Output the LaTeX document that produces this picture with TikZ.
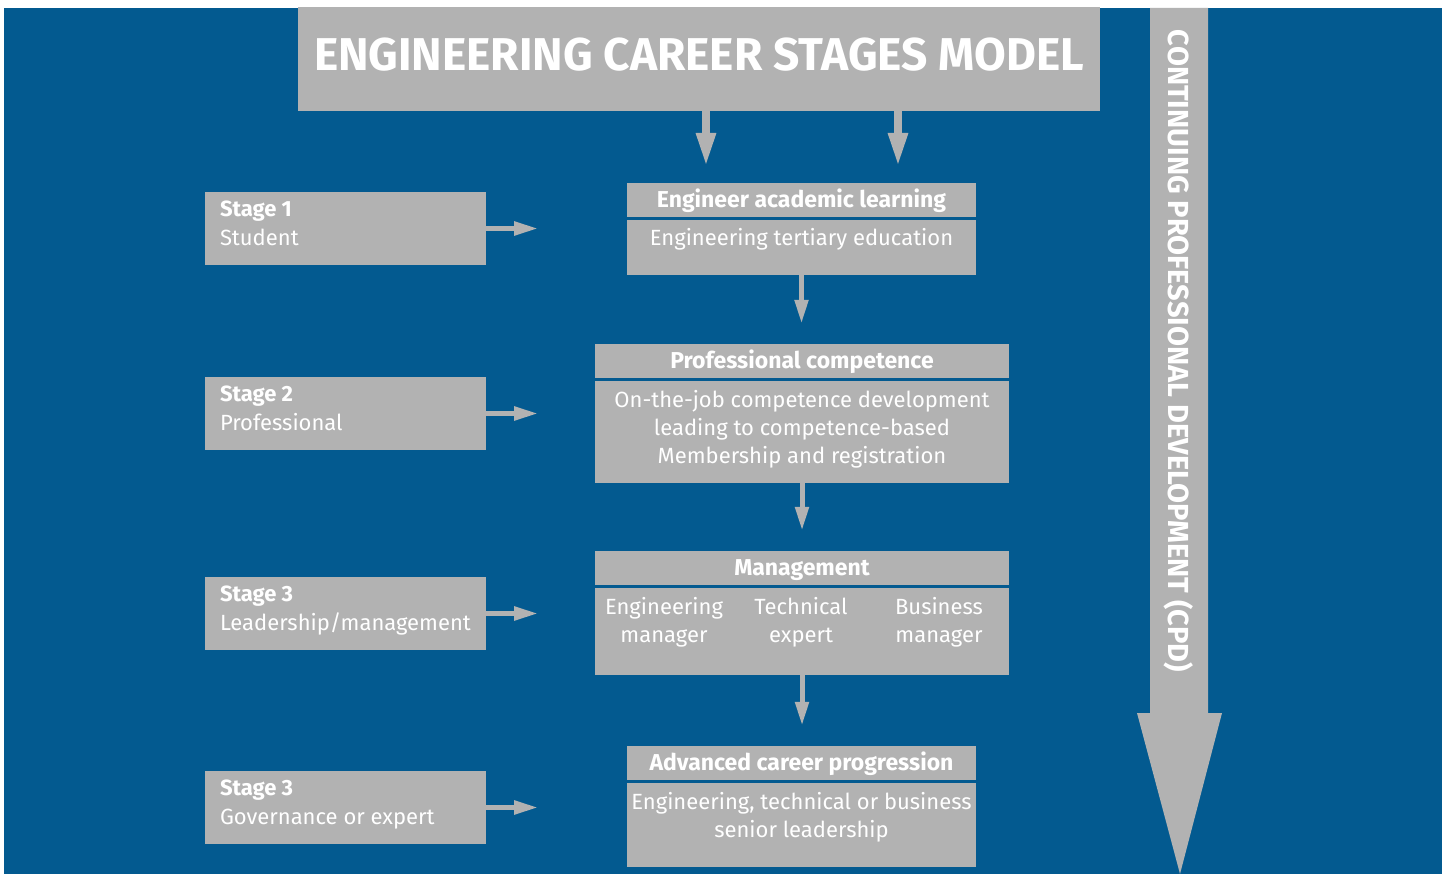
\documentclass[tikz,border=0pt]{standalone}
\usepackage{fontspec}
\setmainfont{Fira Sans}
\definecolor{ecblue}{HTML}{035A90}
\definecolor{ecgray}{HTML}{B2B2B2}
\usepackage{tikz}
\usetikzlibrary{arrows.meta,positioning}

\begin{document}
\begin{tikzpicture}[
  x=1pt, y=-1pt,
  titlebox/.style={fill=ecgray, minimum width=802pt, minimum height=104pt,
    inner sep=0pt, text=white, text depth=9pt,
    font=\bfseries\fontsize{46}{46}\selectfont},
  stagebox/.style={fill=ecgray, minimum width=281pt, minimum height=73pt, inner sep=0pt},
  stagetext/.style={text=white, align=left, inner sep=0pt, anchor=north west,
    font=\fontsize{22}{29}\selectfont},
  head/.style={fill=ecgray, minimum width=#1, minimum height=34pt, inner sep=0pt,
    text=white, text height=16pt, text depth=1pt,
    font=\fontsize{23}{28}\selectfont\bfseries},
  body/.style={fill=ecgray, minimum width=#1, inner sep=0pt},
  txt/.style={text=white, align=center, inner sep=0pt, anchor=north,
    font=\fontsize{22}{28}\selectfont},
  arr/.style={-{Triangle[width=13pt,length=24pt]}, line width=5pt, ecgray},
  bigarr/.style={-{Triangle[width=18pt,length=34pt]}, line width=8pt, ecgray}
]
  % Background
  \fill[white] (0,0) rectangle (1450,874);
  \fill[ecblue] (4,8) rectangle (1442,874);
  \useasboundingbox (0,0) rectangle (1450,874);

  % Title
  \node[titlebox] (title) at (699,59) {ENGINEERING CAREER STAGES MODEL};

  % CPD arrow
  \fill[ecgray] (1150,8) -- (1208,8) -- (1208,713) -- (1222,713) -- (1180,874)
    -- (1137,713) -- (1150,713) -- cycle;
  \node[rotate=-90, text=white, inner sep=0pt,
    font=\bfseries\fontsize{29}{29}\selectfont] (cpd) at (1179,351)
    {CONTINUING PROFESSIONAL DEVELOPMENT (CPD)};

  % Stages
  \node[stagebox] (s1) at (345.5,228.5) {};
  \node[stagetext] (s1t) at ([xshift=15pt,yshift=-9pt]s1.north west) {\textbf{Stage 1}\\Student};
  \node[stagebox] (s2) at (345.5,413.5) {};
  \node[stagetext] (s2t) at ([xshift=15pt,yshift=-9pt]s2.north west) {\textbf{Stage 2}\\Professional};
  \node[stagebox] (s3) at (345.5,613.5) {};
  \node[stagetext] (s3t) at ([xshift=15pt,yshift=-9pt]s3.north west) {\textbf{Stage 3}\\Leadership/management};
  \node[stagebox] (s4) at (345.5,807.5) {};
  \node[stagetext] (s4t) at ([xshift=15pt,yshift=-9pt]s4.north west) {\textbf{Stage 3}\\Governance or expert};

  % Career path
  \node[head=349pt] (h1) at (801.5,200) {Engineer academic learning};
  \node[body=349pt, minimum height=55pt, below=2.5pt of h1] (b1) {};
  \node[txt] (b1t) at ([yshift=-8pt]b1.north) {Engineering tertiary education};

  \node[head=414pt] (h2) at (802,361) {Professional competence};
  \node[body=414pt, minimum height=102pt, below=2.5pt of h2] (b2) {};
  \node[txt] (b2t) at ([yshift=-9pt]b2.north)
    {On-the-job competence development\\leading to competence-based\\Membership and registration};

  \node[head=414pt] (h3) at (802,568) {Management};
  \node[body=414pt, minimum height=87pt, below=2.5pt of h3] (b3) {};
  \node[txt] (b3a) at ([xshift=-138pt,yshift=-9pt]b3.north) {Engineering\\manager};
  \node[txt] (b3b) at ([xshift=-1pt,yshift=-9pt]b3.north) {Technical\\expert};
  \node[txt] (b3c) at ([xshift=137pt,yshift=-9pt]b3.north) {Business\\manager};

  \node[head=349pt] (h4) at (801.5,763) {Advanced career progression};
  \node[body=349pt, minimum height=84pt, below=2.5pt of h4] (b4) {};
  \node[txt] (b4t) at ([yshift=-9pt]b4.north)
    {Engineering, technical or business\\senior leadership};

  % Arrows
  \coordinate (t1) at (706,167);
  \coordinate (t2) at (898,167);
  \draw[bigarr] (title.south -| t1) -- (t1);
  \draw[bigarr] (title.south -| t2) -- (t2);

  \coordinate (a1) at ([xshift=52pt]s1.east);
  \coordinate (a2) at ([xshift=52pt]s2.east);
  \coordinate (a3) at ([xshift=52pt]s3.east);
  \coordinate (a4) at ([xshift=52pt]s4.east);
  \draw[arr] (s1.east) -- (a1);
  \draw[arr] (s2.east) -- (a2);
  \draw[arr] (s3.east) -- (a3);
  \draw[arr] (s4.east) -- (a4);

  \draw[arr, shorten >=20pt] (b1.south) -- (b1.south |- h2.north);
  \draw[arr, shorten >=20pt] (b2.south) -- (b2.south |- h3.north);
  \draw[arr, shorten >=20pt] (b3.south) -- (b3.south |- h4.north);
\end{tikzpicture}
\end{document}
